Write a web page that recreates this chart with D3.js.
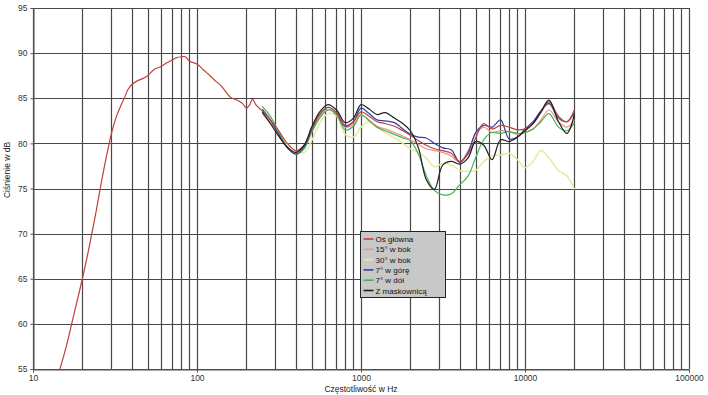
<!DOCTYPE html>
<html>
<head>
<meta charset="utf-8">
<script src="https://cdn.jsdelivr.net/npm/d3@7"></script>
<style>
  body { margin: 0; background: #fff; }
  text { font-family: "Liberation Sans", Arial, sans-serif; }
</style>
</head>
<body>
<div id="wrapper"></div>
<script>
// main axis curve (full range)
const mainFreq = [14.6, 16, 18, 20, 22, 24, 26, 28, 30, 32, 34, 36, 38, 40, 43, 47, 50, 55, 60, 65, 70, 75, 80, 85, 90, 100, 110, 120, 130, 140, 150, 160, 175, 190, 200, 210, 218, 230];
const mainLow = [55, 57.6, 61.5, 65, 68.5, 72, 75.5, 78.5, 81, 82.8, 84, 85, 86, 86.5, 86.9, 87.2, 87.5, 88.2, 88.5, 88.9, 89.2, 89.5, 89.6, 89.6, 89.1, 88.8, 88.1, 87.5, 86.9, 86.4, 85.7, 85.1, 84.8, 84.4, 83.9, 84.3, 84.9, 84.2];

// common frequency grid for the off-axis measurements
const freqs = [250, 280, 315, 355, 400, 450, 500, 560, 630, 710, 800, 900, 1000, 1120, 1250, 1400, 1600, 1800, 2000, 2240, 2500, 2800, 3150, 3550, 4000, 4500, 5000, 5600, 6300, 7100, 8000, 9000, 10000, 11200, 12500, 14000, 16000, 18000, 20000];

const osGlowna = [83.6, 82.6, 81.4, 80.0, 79.2, 79.8, 81.6, 83.2, 84.0, 83.4, 82.0, 82.4, 83.5, 83.0, 82.4, 82.2, 81.9, 81.4, 80.9, 80.3, 79.8, 79.4, 79.2, 78.9, 78.0, 78.8, 80.6, 82.2, 81.6, 82.0, 81.8, 81.5, 81.6, 82.2, 83.4, 84.6, 83.0, 82.4, 83.7];
const bok15 = [83.3, 82.3, 81.0, 79.6, 79.0, 79.6, 81.4, 83.0, 83.8, 83.1, 81.8, 82.1, 83.1, 82.6, 81.9, 81.6, 81.2, 80.8, 80.4, 79.9, 79.4, 79.2, 79.0, 78.6, 77.9, 79.2, 81.0, 81.8, 81.2, 81.4, 81.3, 81.0, 81.2, 81.6, 82.6, 83.7, 82.4, 81.8, 82.6];
const bok30 = [83.2, 82.4, 81.2, 80.0, 79.2, 79.0, 80.3, 82.2, 83.3, 83.0, 81.0, 80.7, 81.8, 82.4, 81.8, 81.2, 80.6, 80.0, 79.4, 79.0, 78.4, 77.4, 77.8, 77.6, 77.0, 76.9, 77.0, 78.0, 78.6, 78.7, 78.9, 78.2, 77.3, 78.0, 79.2, 78.4, 77.0, 76.4, 74.9];
const gora7 = [83.8, 82.6, 81.0, 79.5, 78.8, 79.6, 81.5, 83.2, 84.0, 83.4, 81.9, 82.4, 83.9, 83.3, 82.6, 82.5, 82.3, 81.6, 81.0, 80.7, 80.6, 80.0, 79.5, 79.3, 77.9, 79.0, 81.2, 82.0, 81.8, 82.6, 80.5, 80.7, 81.6, 82.4, 83.6, 84.4, 82.8, 82.4, 83.4];
const dol7 = [84.1, 83.0, 81.3, 79.6, 78.8, 79.4, 81.2, 82.8, 83.7, 83.2, 81.5, 81.9, 83.2, 82.5, 81.8, 81.4, 81.0, 80.6, 80.3, 78.8, 76.4, 74.8, 74.3, 74.4, 75.4, 76.4, 78.4, 80.4, 81.2, 81.1, 81.3, 81.1, 81.2, 81.6, 82.4, 83.3, 81.8, 81.4, 82.3];
const maskownica = [83.5, 82.2, 80.8, 79.6, 79.0, 79.8, 81.8, 83.5, 84.3, 83.7, 82.3, 82.8, 84.3, 83.8, 83.2, 83.4, 82.8, 82.2, 81.4, 79.5, 76.0, 74.9, 77.6, 78.0, 77.7, 78.4, 80.2, 79.8, 78.2, 80.4, 80.2, 80.7, 81.4, 82.2, 83.5, 84.8, 82.4, 81.1, 83.2];

const seriesNames = ["Oś  główna", "15°  w  bok", "30°  w  bok", "7°  w  górę", "7°  w  dół", "Z  maskownicą"];
const seriesColors = ["#c0403c", "#e89880", "#e4eaa0", "#3040a8", "#48b058", "#202020"];
const yTicks = [55, 60, 65, 70, 75, 80, 85, 90, 95];
const xTicks = [10, 100, 1000, 10000, 100000];

const series = [
  mainFreq.concat(freqs).map((f, i) => ({ f, v: mainLow.concat(osGlowna)[i] })),
  freqs.map((f, i) => ({ f, v: bok15[i] })),
  freqs.map((f, i) => ({ f, v: bok30[i] })),
  freqs.map((f, i) => ({ f, v: gora7[i] })),
  freqs.map((f, i) => ({ f, v: dol7[i] })),
  freqs.map((f, i) => ({ f, v: maskownica[i] })),
];

const dimensions = {
  width: 708,
  height: 395,
  margin: { top: 8, right: 19, bottom: 26, left: 33 },
};
dimensions.boundedWidth = dimensions.width - dimensions.margin.left - dimensions.margin.right;
dimensions.boundedHeight = dimensions.height - dimensions.margin.top - dimensions.margin.bottom;

const wrapper = d3.select("#wrapper").append("svg")
  .attr("width", dimensions.width)
  .attr("height", dimensions.height);

const bounds = wrapper.append("g")
  .attr("transform", `translate(${dimensions.margin.left},${dimensions.margin.top})`);

const xScale = d3.scaleLog().domain([10, 100000]).range([0, dimensions.boundedWidth]);
const yScale = d3.scaleLinear().domain([55, 95]).range([dimensions.boundedHeight, 0]);

// vertical grid: every 1..9 x decade
const gridX = [];
for (let d = 10; d < 100000; d *= 10) for (let k = 1; k < 10; k++) gridX.push(d * k);
gridX.push(100000);

bounds.append("g").selectAll("line").data(gridX).join("line")
  .attr("x1", (d) => Math.round(xScale(d)) + 0.5)
  .attr("x2", (d) => Math.round(xScale(d)) + 0.5)
  .attr("y1", 0).attr("y2", dimensions.boundedHeight)
  .attr("stroke", "#484848").attr("stroke-width", 1.2);

bounds.append("g").selectAll("line").data(yTicks).join("line")
  .attr("x1", 0).attr("x2", dimensions.boundedWidth)
  .attr("y1", (d) => Math.round(yScale(d)) + 0.5)
  .attr("y2", (d) => Math.round(yScale(d)) + 0.5)
  .attr("stroke", "#484848").attr("stroke-width", 1.2);

// axes
const yAxis = bounds.append("g")
  .call(d3.axisLeft(yScale).tickValues(yTicks).tickSize(3).tickPadding(3))
  .attr("transform", "translate(0.5,0)");
const xAxis = bounds.append("g")
  .attr("transform", `translate(0,${dimensions.boundedHeight + 0.5})`)
  .call(d3.axisBottom(xScale).tickValues(xTicks).tickFormat(d3.format("d")).tickSize(3).tickPadding(2));
[yAxis, xAxis].forEach((a) => {
  a.select(".domain").attr("stroke", "#555");
  a.selectAll(".tick line").attr("stroke", "#555");
  a.selectAll("text").attr("font-size", 8.5).attr("fill", "#333");
});

// curves
const lineGenerator = d3.line()
  .x((d) => xScale(d.f))
  .y((d) => yScale(d.v))
  .curve(d3.curveCatmullRom);

const order = [2, 1, 4, 3, 0, 5];
bounds.append("g").selectAll("path").data(order).join("path")
  .attr("d", (i) => lineGenerator(series[i]))
  .attr("fill", "none")
  .attr("stroke", (i) => seriesColors[i])
  .attr("stroke-width", (i) => (i === 2 ? 1.5 : 1.2));

// titles
wrapper.append("text")
  .attr("x", 361).attr("y", 392)
  .attr("text-anchor", "middle")
  .attr("font-size", 8.5).attr("fill", "#222")
  .text("Częstotliwość  w  Hz");

wrapper.append("text")
  .attr("transform", "translate(10,170) rotate(-90)")
  .attr("text-anchor", "middle")
  .attr("font-size", 8.5).attr("fill", "#222")
  .text("Ciśnienie w dB");

// legend
const legend = wrapper.append("g").attr("transform", "translate(360.5,231.5)");
legend.append("rect")
  .attr("width", 85).attr("height", 66)
  .attr("fill", "#c8c8c8").attr("stroke", "#222").attr("stroke-width", 1);
const item = legend.selectAll("g").data(seriesNames).join("g")
  .attr("transform", (d, i) => `translate(3,${7.5 + i * 10.3})`);
item.append("line")
  .attr("x1", 0).attr("x2", 10)
  .attr("stroke", (d, i) => seriesColors[i]).attr("stroke-width", 1.6);
item.append("text")
  .attr("x", 12).attr("y", 3)
  .attr("font-size", 8).attr("fill", "#111")
  .text((d) => d);
</script>
</body>
</html>
